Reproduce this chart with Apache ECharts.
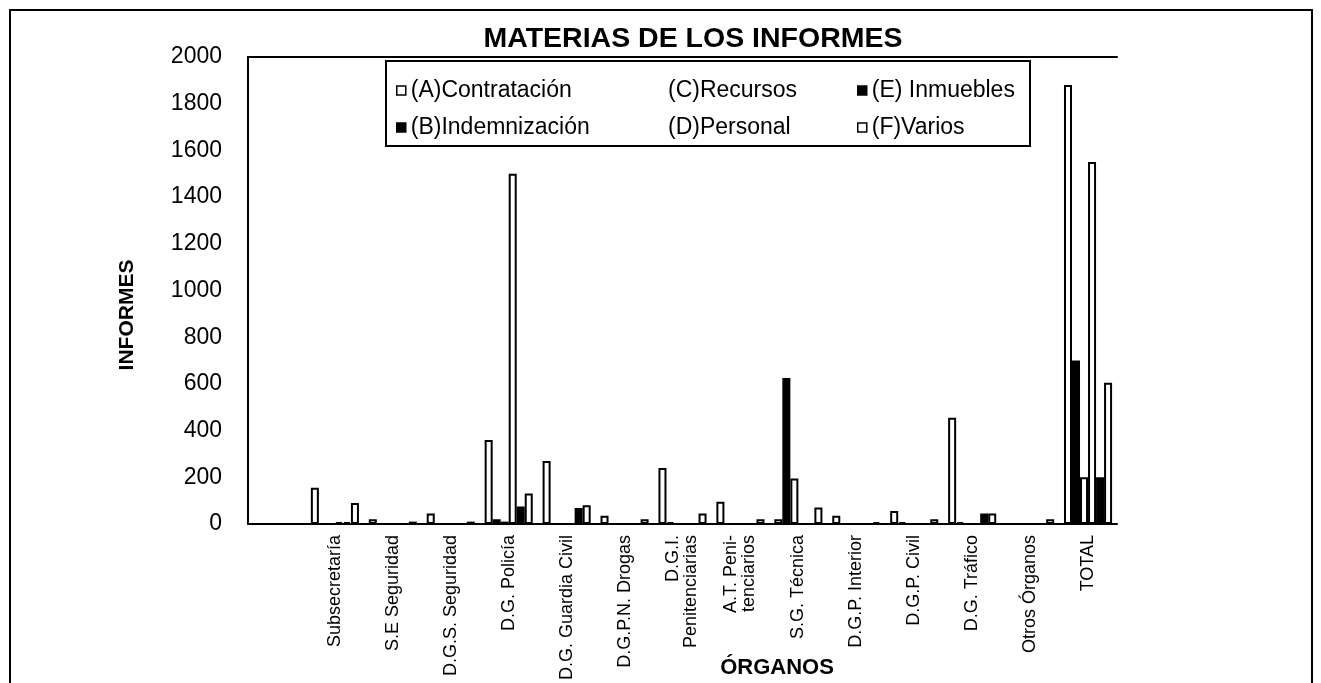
<!DOCTYPE html>
<html>
<head>
<meta charset="utf-8">
<script src="https://cdn.jsdelivr.net/npm/echarts@6/dist/echarts.min.js"></script>
<style>
  html, body { margin: 0; padding: 0; background: #fff; }
  #chart { width: 1321px; height: 683px; }
</style>
</head>
<body>
<div id="chart"></div>
<script>
// organos (first band is empty in the original)
const organos = ['', 'Subsecretaría', 'S.E Seguridad', 'D.G.S. Seguridad', 'D.G. Policía',
  'D.G. Guardia Civil', 'D.G.P.N. Drogas', 'D.G.I.\nPenitenciarias', 'A.T. Peni-\ntenciarios',
  'S.G. Técnica', 'D.G.P. Interior', 'D.G.P. Civil', 'D.G. Tráfico', 'Otros Órganos', 'TOTAL'];

const contratacion  = [0, 155, 20, 45, 360, 270, 35, 240, 95, 20, 35, 55, 455, 0, 1880];
const indemnizacion = [0, 0, 0, 0, 20, 0, 0, 8, 0, 625, 0, 8, 8, 0, 700];
const recursos      = [0, 0, 0, 0, 10, 0, 0, 0, 0, 195, 0, 0, 0, 0, 200];
const personal      = [0, 8, 0, 0, 1500, 0, 0, 0, 0, 0, 0, 0, 0, 0, 1550];
const inmuebles     = [0, 8, 0, 0, 75, 68, 0, 0, 0, 0, 0, 0, 45, 0, 200];
const varios        = [0, 90, 10, 10, 130, 80, 20, 45, 20, 70, 8, 20, 45, 20, 605];

const nombres = ['(A)Contratación', '(B)Indemnización', '(C)Recursos', '(D)Personal', '(E) Inmuebles', '(F)Varios'];
const yTicks = { min: 0, max: 2000, interval: 200 };

const FONT = '"Liberation Sans", Arial, sans-serif';
const chart = echarts.init(document.getElementById('chart'));

const white = { color: '#fff', borderColor: '#000', borderWidth: 2 };
const black = { color: '#000', borderColor: '#000', borderWidth: 2 };
const hidden = { color: 'rgba(0,0,0,0)', borderColor: 'rgba(0,0,0,0)', borderWidth: 0 };

function serie(name, data, style) {
  return {
    name, type: 'bar', data,
    barGap: '0%', barCategoryGap: '17%',
    itemStyle: style,
    emphasis: { disabled: true },
    animation: false
  };
}

function leyenda(left, items) {
  return {
    left, top: 74, orient: 'vertical',
    itemWidth: 9, itemHeight: 9, itemGap: 14, icon: 'rect',
    selectedMode: false,
    itemStyle: { borderWidth: 1.5 },
    textStyle: { fontFamily: FONT, fontSize: 23, color: '#000', lineHeight: 23 },
    data: items
  };
}

chart.setOption({
  backgroundColor: '#fff',
  animation: false,
  textStyle: { fontFamily: FONT },
  graphic: [
    { type: 'rect', shape: { x: 10, y: 10, width: 1302, height: 700 },
      style: { fill: 'none', stroke: '#000', lineWidth: 2 }, silent: true },
    { type: 'rect', shape: { x: 386, y: 61, width: 644, height: 85 },
      style: { fill: '#fff', stroke: '#000', lineWidth: 2 }, z: 1, silent: true },
    { type: 'text', x: 693, y: 39,
      style: { text: 'MATERIAS DE LOS INFORMES', font: 'bold 28.5px ' + FONT, fill: '#000',
        align: 'center', verticalAlign: 'middle' } },
    { type: 'text', x: 127, y: 315, rotation: Math.PI / 2,
      style: { text: 'INFORMES', font: 'bold 21px ' + FONT, fill: '#000',
        align: 'center', verticalAlign: 'middle' } },
    { type: 'text', x: 777, y: 668,
      style: { text: 'ÓRGANOS', font: 'bold 22px ' + FONT, fill: '#000',
        align: 'center', verticalAlign: 'middle' } }
  ],
  legend: [
    leyenda(391, [{ name: nombres[0] }, { name: nombres[1] }]),
    leyenda(649, [{ name: nombres[2], itemStyle: hidden }, { name: nombres[3], itemStyle: hidden }]),
    leyenda(852, [{ name: nombres[4] }, { name: nombres[5] }])
  ],
  grid: { left: 248, right: 204, top: 57, bottom: 159, containLabel: false },
  xAxis: [
    {
      type: 'category', data: organos,
      axisLine: { show: true, lineStyle: { color: '#000', width: 2 } },
      axisTick: { show: false },
      axisLabel: { interval: 0, rotate: 90, margin: 11, fontSize: 18, color: '#000', fontFamily: FONT, lineHeight: 18 },
      splitLine: { show: false }
    },
    {
      type: 'category', data: organos, position: 'top',
      axisLine: { show: true, lineStyle: { color: '#000', width: 2 } },
      axisTick: { show: false }, axisLabel: { show: false }, splitLine: { show: false }
    }
  ],
  yAxis: {
    type: 'value', min: yTicks.min, max: yTicks.max, interval: yTicks.interval,
    axisLine: { show: true, lineStyle: { color: '#000', width: 2 } },
    axisTick: { show: false },
    splitLine: { show: false },
    axisLabel: { margin: 26, fontSize: 23, color: '#000', fontFamily: FONT, padding: [0, 0, 8, 0],
      formatter: (v) => String(v) }
  },
  series: [
    serie(nombres[0], contratacion, white),
    serie(nombres[1], indemnizacion, black),
    serie(nombres[2], recursos, white),
    serie(nombres[3], personal, white),
    serie(nombres[4], inmuebles, black),
    serie(nombres[5], varios, white)
  ]
});
</script>
</body>
</html>
